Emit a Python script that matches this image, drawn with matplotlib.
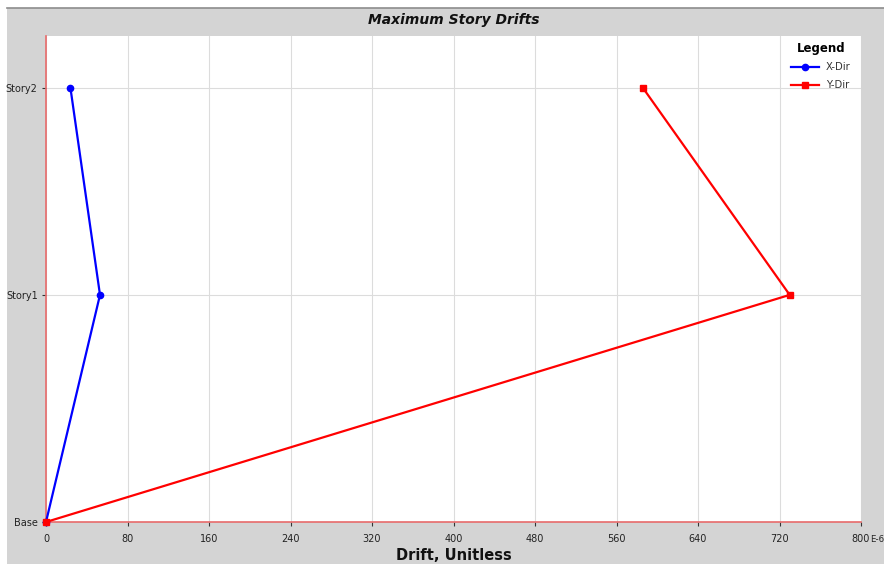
import matplotlib
matplotlib.use("Agg")
import matplotlib.pyplot as plt
from matplotlib.patches import Rectangle
from matplotlib.lines import Line2D

# story levels (elevation) and drift values, in units of 1E-6
stories = ["Base", "Story1", "Story2"]
elevations = [0.0, 4.5, 8.6]
drift_x = [0, 53, 24]
drift_y = [0, 730, 586]
x_ticks = [0, 80, 160, 240, 320, 400, 480, 560, 640, 720, 800]

W, H = 884, 564
fig = plt.figure(figsize=(W / 100, H / 100), dpi=100, facecolor="white")

# grey panel behind everything, with a darker top rule
fig.patches.append(Rectangle((7 / W, 0), 1 - 7 / W, 1 - 8 / H, transform=fig.transFigure,
                             facecolor="#d4d4d4", edgecolor="none", zorder=-10))
fig.add_artist(Line2D([7 / W, 1], [1 - 8 / H, 1 - 8 / H], transform=fig.transFigure,
                      color="#8c8c8c", linewidth=1.2))

ax = fig.add_axes([46 / W, 1 - 522 / H, (861 - 46) / W, (522 - 36) / H])
ax.set_facecolor("white")

ax.plot(drift_x, elevations, color="#0000ff", linewidth=1.6, marker="o", markersize=4.5,
        label="X-Dir", zorder=3, clip_on=False)
ax.plot(drift_y, elevations, color="#ff0000", linewidth=1.6, marker="s", markersize=4.2,
        label="Y-Dir", zorder=3, clip_on=False)

ax.set_xlim(0, 800)
ax.set_ylim(0, 9.63)
ax.set_xticks(x_ticks)
ax.set_xticklabels([str(t) for t in x_ticks])
ax.set_yticks(elevations)
ax.set_yticklabels(stories)
ax.grid(True, color="#dcdcdc", linewidth=0.8)
ax.set_axisbelow(True)
ax.tick_params(axis="both", labelsize=7, length=3, width=0.8, color="#333333",
               labelcolor="#222222")
ax.tick_params(axis="x", pad=6)
ax.tick_params(axis="y", pad=3)

for side in ("top", "right"):
    ax.spines[side].set_visible(False)
for side in ("left", "bottom"):
    ax.spines[side].set_color("#e86b6b")
    ax.spines[side].set_linewidth(1.2)

# unit suffix next to the last x tick label
fig.text(870.5 / W, 1 - 539 / H, "E-6", fontsize=6.2, color="#222222", ha="left", va="center")

fig.text(453.5 / W, 1 - 20 / H, "Maximum Story Drifts", fontsize=10, fontweight="bold",
         fontstyle="italic", ha="center", va="center", color="#111111")
fig.text(453.5 / W, 1 - 555 / H, "Drift, Unitless", fontsize=10.5, fontweight="bold",
         ha="center", va="center", color="#111111")

leg = ax.legend(loc="upper right", title="Legend", frameon=False, fontsize=7.2,
                handlelength=2.8, handletextpad=0.7, labelspacing=0.75,
                borderaxespad=0.2, bbox_to_anchor=(0.995, 1.0))
leg.get_title().set_fontweight("bold")
leg.get_title().set_fontsize(8.5)
for t in leg.get_texts():
    t.set_color("#333333")

fig.savefig("out.png", dpi=100, facecolor="white")
